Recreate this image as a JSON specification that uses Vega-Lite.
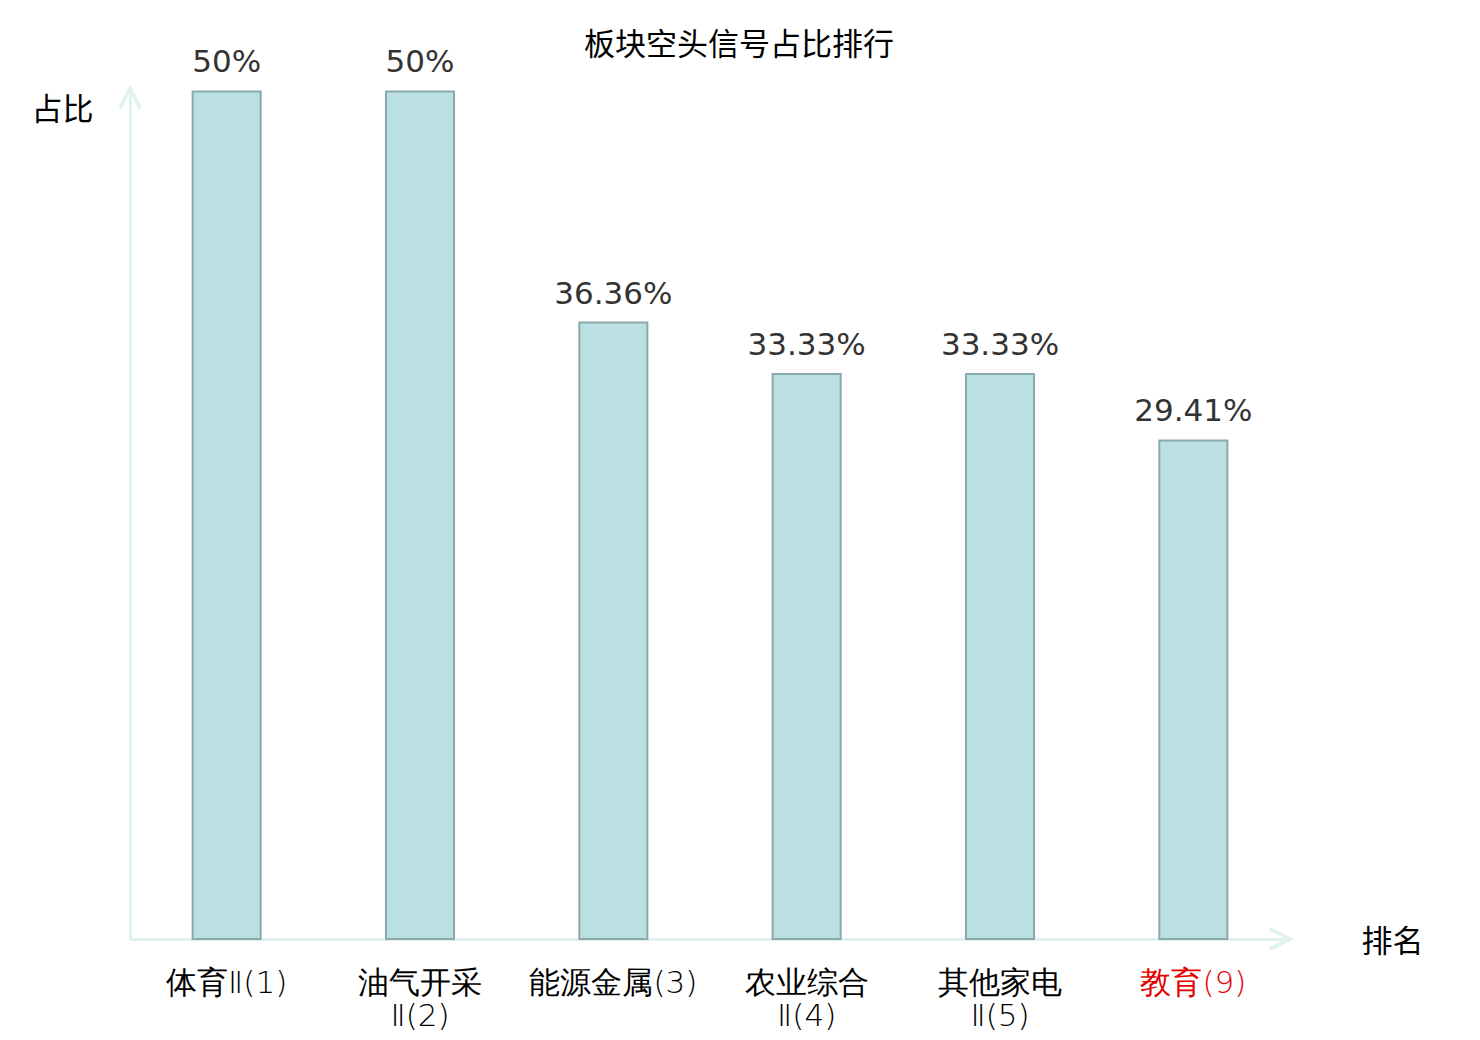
{
  "$schema": "https://vega.github.io/schema/vega-lite/v6.json",
  "description": "板块空头信号占比排行",
  "width": 1160,
  "height": 851,
  "autosize": {"type": "none"},
  "padding": {"left": 130, "top": 88, "right": 190, "bottom": 101},
  "background": "white",
  "title": {
    "text": "板块空头信号占比排行",
    "font": "Noto Sans CJK SC",
    "fontSize": 31,
    "fontWeight": "normal",
    "color": "#000000",
    "anchor": "middle",
    "baseline": "alphabetic",
    "offset": -39,
    "dx": 29
  },
  "config": {
    "view": {"stroke": null},
    "text": {"font": "DejaVu Sans"}
  },
  "data": {
    "values": [
      {"name": "体育Ⅱ(1)", "share": 0.5},
      {"name": "油气开采\nⅡ(2)", "share": 0.5},
      {"name": "能源金属(3)", "share": 0.3636},
      {"name": "农业综合\nⅡ(4)", "share": 0.3333},
      {"name": "其他家电\nⅡ(5)", "share": 0.3333},
      {"name": "教育(9)", "share": 0.2941}
    ]
  },
  "resolve": {"scale": {"x": "independent"}},
  "layer": [
    {
      "mark": {"type": "bar", "fill": "#bbe0e3", "stroke": "#8ba8aa", "strokeWidth": 2},
      "encoding": {
        "x": {
          "field": "name",
          "type": "nominal",
          "sort": null,
          "scale": {"paddingInner": 0.648, "paddingOuter": 0.324},
          "axis": {
            "title": "排名",
            "titleFont": "Noto Sans CJK SC",
            "titleFontSize": 31,
            "titleFontWeight": "normal",
            "titleColor": "#000000",
            "titleAngle": 0,
            "titleAnchor": "start",
            "titleAlign": "left",
            "titleBaseline": "middle",
            "titleX": 1231,
            "titleY": 3,
            "labelAngle": 0,
            "labelExpr": "split(datum.value, '\\n')",
            "labelFont": "DejaVu Sans",
            "labelFontWeight": 200,
            "labelFontSize": 31,
            "labelLineHeight": 33,
            "labelPadding": 29,
            "labelColor": {"condition": {"test": "datum.value === '教育(9)'", "value": "#e60000"}, "value": "#000000"},
            "ticks": false,
            "domainColor": "#dff2ef",
            "domainWidth": 3,
            "grid": false
          }
        },
        "y": {
          "field": "share",
          "type": "quantitative",
          "scale": {"domain": [0, 0.502], "nice": false},
          "axis": {
            "title": "占比",
            "titleFont": "Noto Sans CJK SC",
            "titleFontSize": 31,
            "titleFontWeight": "normal",
            "titleColor": "#000000",
            "titleAngle": 0,
            "titleAlign": "right",
            "titleBaseline": "middle",
            "titleX": -37,
            "titleY": 22,
            "labels": false,
            "ticks": false,
            "grid": false,
            "domainColor": "#dff2ef",
            "domainWidth": 3
          }
        }
      }
    },
    {
      "mark": {"type": "text", "fontSize": 31, "color": "#333333", "baseline": "alphabetic", "dy": -19},
      "encoding": {
        "x": {"field": "name", "type": "nominal", "sort": null, "scale": {"paddingInner": 0.648, "paddingOuter": 0.324}, "axis": null},
        "y": {"field": "share", "type": "quantitative"},
        "text": {"field": "share", "type": "quantitative", "format": ".2~%"}
      }
    },
    {
      "mark": {"type": "point", "shape": "M-2,-1L0,0L-2,1", "size": 400, "filled": false, "stroke": "#dff2ef", "strokeWidth": 3, "opacity": 1},
      "encoding": {
        "x": {"datum": 1, "type": "quantitative", "scale": {"domain": [0, 1], "nice": false, "zero": false}, "axis": null},
        "y": {"datum": 0, "type": "quantitative"}
      }
    },
    {
      "mark": {"type": "point", "shape": "M-1,2L0,0L1,2", "size": 400, "filled": false, "stroke": "#dff2ef", "strokeWidth": 3, "opacity": 1},
      "encoding": {
        "x": {"datum": 0, "type": "quantitative", "scale": {"domain": [0, 1], "nice": false, "zero": false}, "axis": null},
        "y": {"datum": 0.502, "type": "quantitative"}
      }
    }
  ]
}
